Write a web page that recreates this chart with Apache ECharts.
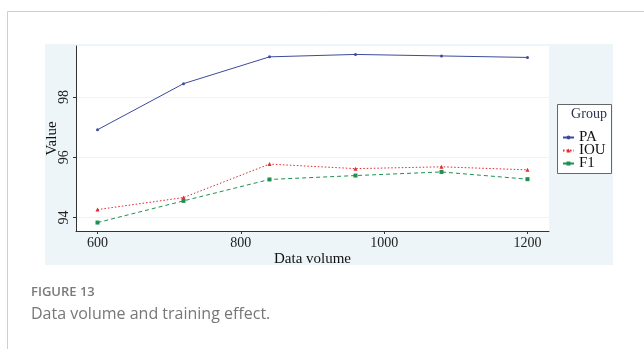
<!DOCTYPE html>
<html><head><meta charset="utf-8">
<script src="https://cdn.jsdelivr.net/npm/echarts@6/dist/echarts.min.js"></script>
<style>html,body{margin:0;padding:0;background:#fff}#c{width:644px;height:349px}</style>
</head><body><div id="c"></div>
<script>
const dataVolume = [600, 720, 840, 960, 1080, 1200];
const seriesNames = ['PA', 'IOU', 'F1'];
const paValues = [96.91, 98.44, 99.33, 99.41, 99.36, 99.31];
const iouValues = [94.26, 94.66, 95.77, 95.62, 95.68, 95.58];
const f1Values = [93.83, 94.55, 95.26, 95.39, 95.51, 95.27];
const xTicks = [600, 800, 1000, 1200];
const yTicks = [94, 96, 98];

const serif = 'Liberation Serif';
const pairs = v => dataVolume.map((x, i) => [x, v[i]]);
const chart = echarts.init(document.getElementById('c'), null, {renderer: 'canvas'});
chart.setOption({
  backgroundColor: '#fff',
  animation: false,
  graphic: [
    {type: 'rect', z: -10, shape: {x: 45, y: 44, width: 568, height: 221}, style: {fill: '#edf5f8'}},
    {type: 'line', shape: {x1: 7.5, y1: 11.5, x2: 644, y2: 11.5}, style: {stroke: '#cfcfcf', lineWidth: 1}},
    {type: 'line', shape: {x1: 7.5, y1: 11.5, x2: 7.5, y2: 349}, style: {stroke: '#cfcfcf', lineWidth: 1}},
    {type: 'rect', z: 5, shape: {x: 557.5, y: 104.5, width: 54, height: 69}, style: {fill: '#fff', stroke: '#666', lineWidth: 1}},
    {type: 'text', z: 6, x: 589, y: 114, style: {text: 'Group', font: '14px "Liberation Serif"', fill: '#2b3350', align: 'center', verticalAlign: 'middle'}},
    {type: 'text', x: 31, y: 292, style: {text: 'FIGURE 13', font: '600 13px "Open Sans"', fill: '#7a7a7a', verticalAlign: 'middle'}},
    {type: 'text', x: 31, y: 314, style: {text: 'Data volume and training effect.', font: '16px "Open Sans"', fill: '#777', verticalAlign: 'middle'}}
  ],
  grid: {left: 76, top: 46, right: 95, bottom: 118, show: true, backgroundColor: '#fff', borderWidth: 0},
  legend: {
    orient: 'vertical', left: 562, top: 130, z: 10, padding: 0,
    itemWidth: 11, itemHeight: 5, itemGap: -2,
    textStyle: {fontFamily: serif, fontSize: 15, color: '#111', lineHeight: 13, height: 13, padding: 0},
    data: seriesNames
  },
  xAxis: {
    type: 'value', min: 570, max: 1230,
    name: 'Data volume', nameLocation: 'middle', nameGap: 21, nameMoveOverlap: false,
    nameTextStyle: {fontFamily: serif, fontSize: 15, color: '#111'},
    axisLine: {show: true, lineStyle: {color: '#333', width: 1}},
    axisTick: {show: true, length: 3, customValues: xTicks, lineStyle: {color: '#333'}},
    axisLabel: {customValues: xTicks, formatter: v => String(v), fontFamily: serif, fontSize: 14, color: '#222', margin: 5},
    splitLine: {show: false}
  },
  yAxis: {
    type: 'value', min: 93.55, max: 99.69,
    name: 'Value', nameLocation: 'middle', nameGap: 16, nameMoveOverlap: false,
    nameTextStyle: {fontFamily: serif, fontSize: 15, color: '#111'},
    axisLine: {show: true, lineStyle: {color: '#333', width: 1}},
    axisTick: {show: true, length: 3, customValues: yTicks, lineStyle: {color: '#333'}},
    axisLabel: {customValues: yTicks, formatter: v => String(v), rotate: 90, fontFamily: serif, fontSize: 14, color: '#222', margin: 5},
    splitLine: {show: true, lineStyle: {color: '#f1f3f3', width: 1}}
  },
  series: [
    {name: 'PA', type: 'line', data: pairs(paValues), symbol: 'circle', symbolSize: 3,
     lineStyle: {color: '#3d4b9b', width: 1, type: 'solid'}, itemStyle: {color: '#3d4b9b'}},
    {name: 'IOU', type: 'line', data: pairs(iouValues), symbol: 'triangle', symbolSize: 4,
     lineStyle: {color: '#e8262c', width: 1, type: [1.5, 2]}, itemStyle: {color: '#e8262c'}},
    {name: 'F1', type: 'line', data: pairs(f1Values), symbol: 'rect', symbolSize: 4,
     lineStyle: {color: '#1e9150', width: 1, type: [4, 3]}, itemStyle: {color: '#1e9150'}}
  ]
});
</script></body></html>
